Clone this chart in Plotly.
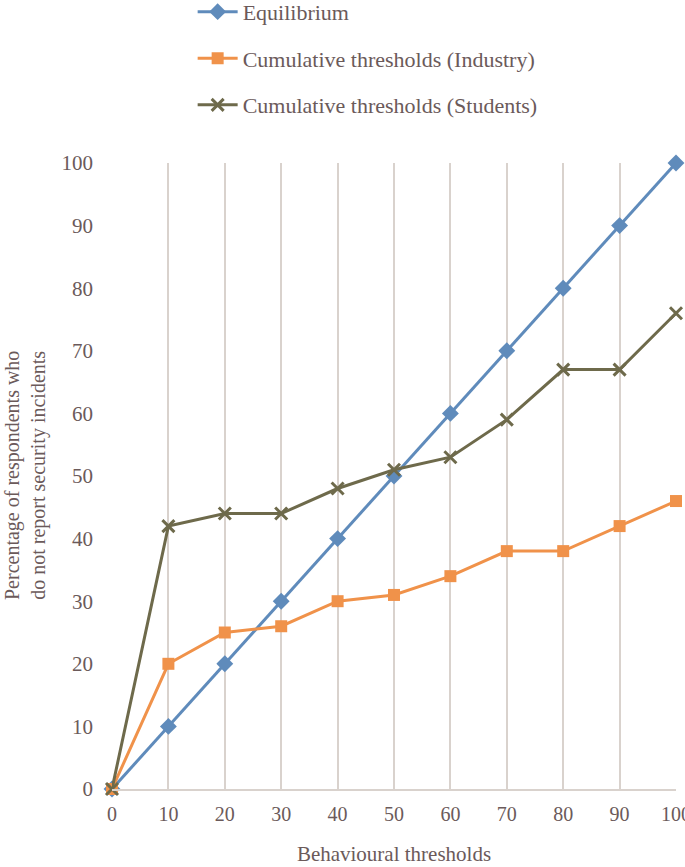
import plotly.graph_objects as go

thresholds = [0, 10, 20, 30, 40, 50, 60, 70, 80, 90, 100]
equilibrium = [0, 10, 20, 30, 40, 50, 60, 70, 80, 90, 100]
industry = [0, 20, 25, 26, 30, 31, 34, 38, 38, 42, 46]
students = [0, 42, 44, 44, 48, 51, 53, 59, 67, 67, 76]
y_ticks = [0, 10, 20, 30, 40, 50, 60, 70, 80, 90, 100]

FONT = "Liberation Serif"
TXT = "#6b5a5a"
GRID = "#d9d2cd"

fig = go.Figure()
fig.add_trace(go.Scatter(
    x=thresholds, y=equilibrium, name="Equilibrium", mode="lines+markers",
    line=dict(color="#5f8bbb", width=3),
    marker=dict(symbol="diamond", size=13, color="#5f8bbb"),
    legendgroup="a", cliponaxis=False))
fig.add_trace(go.Scatter(
    x=thresholds, y=industry, name="Cumulative thresholds (Industry)", mode="lines+markers",
    line=dict(color="#f0924a", width=3),
    marker=dict(symbol="square", size=12, color="#f0924a"),
    legendgroup="b", cliponaxis=False))
fig.add_trace(go.Scatter(
    x=thresholds, y=students, name="Cumulative thresholds (Students)", mode="lines+markers",
    line=dict(color="#6e6a4b", width=3),
    marker=dict(symbol="x-thin", size=12, color="#6e6a4b",
                line=dict(color="#6e6a4b", width=3)),
    legendgroup="c", cliponaxis=False))

fig.update_layout(
    width=685, height=867,
    margin=dict(l=112, r=9, t=163, b=78, autoexpand=False),
    paper_bgcolor="white", plot_bgcolor="white",
    font=dict(family=FONT, color=TXT, size=20),
    showlegend=True,
    legend=dict(
        x=0.143, xanchor="left", y=1.275, yref="paper", yanchor="top",
        orientation="v", tracegroupgap=15,
        font=dict(family=FONT, size=22, color=TXT),
        bgcolor="rgba(0,0,0,0)", itemwidth=40),
    xaxis=dict(
        range=[0, 100], tickvals=thresholds, ticktext=[str(v) for v in thresholds],
        showgrid=True, gridcolor=GRID, gridwidth=2,
        showline=True, linecolor=GRID, linewidth=2,
        zeroline=False, ticks="", ticklabelstandoff=6,
        ticklabeloverflow="allow", automargin=False,
        tickfont=dict(family=FONT, size=20, color=TXT),
        title=dict(text="Behavioural thresholds", font=dict(family=FONT, size=21, color=TXT), standoff=22)),
    yaxis=dict(
        range=[0, 100], tickvals=y_ticks, ticktext=[str(v) for v in y_ticks],
        showgrid=False, showline=False, zeroline=False, ticks="",
        ticklabelstandoff=18, ticklabeloverflow="allow", automargin=False,
        tickfont=dict(family=FONT, size=21, color=TXT)),
    annotations=[dict(
        text="Percentage of respondents who<br>do not report security incidents",
        xref="paper", yref="paper", x=0, y=0.5, xshift=-87,
        xanchor="center", yanchor="middle", textangle=-90, showarrow=False,
        font=dict(family=FONT, size=20, color=TXT))],
)

fig.write_html("out.html", config={"displayModeBar": False},
               post_script="document.body.style.margin='0';document.body.style.padding='0';document.body.style.overflow='hidden';")
